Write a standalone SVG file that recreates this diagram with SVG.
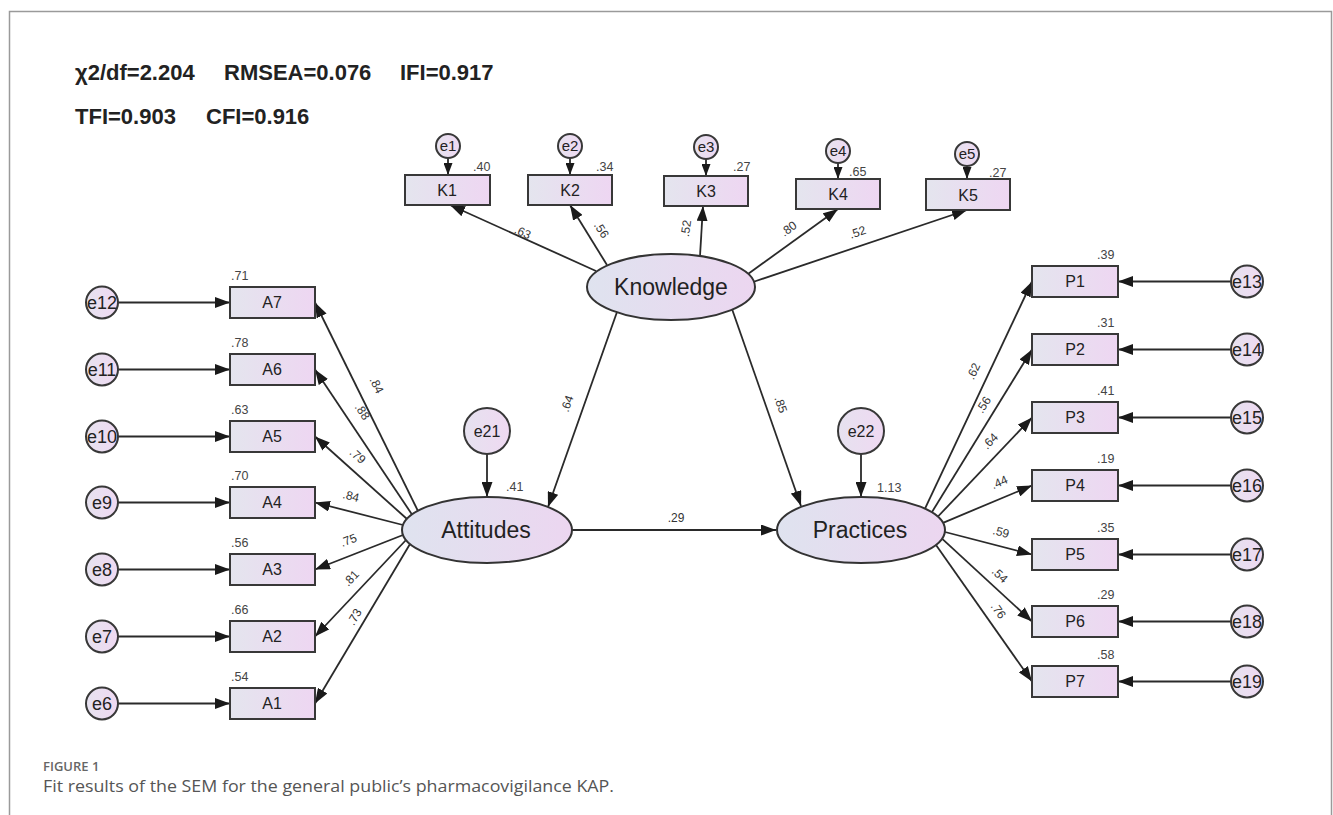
<svg xmlns="http://www.w3.org/2000/svg" width="1333" height="815" viewBox="0 0 1333 815">
<defs>
<linearGradient id="gBox" x1="0" y1="0" x2="1" y2="0"><stop offset="0" stop-color="#e4e5ee"/><stop offset="1" stop-color="#eed6f2"/></linearGradient>
<linearGradient id="gEll" x1="0" y1="0" x2="1" y2="0"><stop offset="0" stop-color="#dfe3ef"/><stop offset="1" stop-color="#ecd6f0"/></linearGradient>
<linearGradient id="gCir" x1="0" y1="0" x2="1" y2="0"><stop offset="0" stop-color="#e6e2ef"/><stop offset="1" stop-color="#efd9f2"/></linearGradient>
<marker id="ah" viewBox="0 0 15 11" refX="15" refY="5.5" markerWidth="15" markerHeight="11" markerUnits="userSpaceOnUse" orient="auto"><path d="M0,0 L15,5.5 L0,11 z" fill="#1a1a1a"/></marker>
<marker id="ahs" viewBox="0 0 12 9" refX="12" refY="4.5" markerWidth="12" markerHeight="9" markerUnits="userSpaceOnUse" orient="auto"><path d="M0,0 L12,4.5 L0,9 z" fill="#1a1a1a"/></marker>
</defs>
<style>
.box{fill:url(#gBox);stroke:#383838;stroke-width:2}
.ell{fill:url(#gEll);stroke:#333;stroke-width:2}
.cir{fill:url(#gCir);stroke:#383838;stroke-width:2}
.lbl{font-family:"Liberation Sans",Arial,sans-serif;font-size:16px;fill:#222;text-anchor:middle}
.big{font-family:"Liberation Sans",Arial,sans-serif;font-size:23px;fill:#222;text-anchor:middle}
.elb{font-family:"Liberation Sans",Arial,sans-serif;font-size:18px;fill:#222;text-anchor:middle}
.elm{font-family:"Liberation Sans",Arial,sans-serif;font-size:16px;fill:#222;text-anchor:middle}
.elt{font-family:"Liberation Sans",Arial,sans-serif;font-size:15px;fill:#222;text-anchor:middle}
.val{font-family:"Liberation Sans",Arial,sans-serif;font-size:12.5px;fill:#444}
.pl{font-family:"Liberation Sans",Arial,sans-serif;font-size:12px;fill:#333;text-anchor:middle}
.hdr{font-family:"Liberation Sans",Arial,sans-serif;font-size:22px;font-weight:bold;fill:#222}
.con line{stroke:#2a2a2a;stroke-width:1.8;marker-end:url(#ah)}
.con line.s{marker-end:url(#ahs)}
</style>
<rect width="1333" height="815" fill="#fff"/>
<path d="M9.5,815 L9.5,11.5 L1331.5,11.5 L1331.5,815" fill="none" stroke="#9a9a9a" stroke-width="1.5"/>

<g id="header">
<text class="hdr" x="75" y="80">χ2/df=2.204</text>
<text class="hdr" x="224" y="80">RMSEA=0.076</text>
<text class="hdr" x="400" y="80">IFI=0.917</text>
<text class="hdr" x="75" y="124">TFI=0.903</text>
<text class="hdr" x="206" y="124">CFI=0.916</text>
</g>

<g id="connectors" class="con">
<line class="s" x1="448" y1="158" x2="448" y2="175"/>
<line class="s" x1="570" y1="158" x2="570" y2="175"/>
<line class="s" x1="706" y1="159" x2="706" y2="176"/>
<line class="s" x1="838" y1="163" x2="838" y2="179"/>
<line class="s" x1="967" y1="166" x2="967" y2="179"/>
<line x1="596" y1="271" x2="450" y2="205"/>
<line x1="607" y1="265" x2="570" y2="205"/>
<line x1="700" y1="256" x2="703" y2="206"/>
<line x1="748" y1="274" x2="838" y2="209"/>
<line x1="753" y1="282" x2="967" y2="210"/>
<line x1="617" y1="312" x2="548" y2="507"/>
<line x1="732" y1="309" x2="801" y2="506"/>
<line x1="572" y1="530" x2="776" y2="530"/>
<line x1="487" y1="454" x2="487" y2="497"/>
<line x1="861" y1="454" x2="861" y2="497"/>
<line x1="118" y1="302.5" x2="230" y2="302.5"/>
<line x1="118" y1="369.5" x2="230" y2="369.5"/>
<line x1="118" y1="436.5" x2="230" y2="436.5"/>
<line x1="118" y1="502.5" x2="230" y2="502.5"/>
<line x1="118" y1="569.5" x2="230" y2="569.5"/>
<line x1="118" y1="636.5" x2="230" y2="636.5"/>
<line x1="118" y1="703.5" x2="230" y2="703.5"/>
<line x1="418" y1="511" x2="315" y2="302.5"/>
<line x1="412" y1="514.5" x2="315" y2="369.5"/>
<line x1="407" y1="519" x2="315" y2="436.5"/>
<line x1="403" y1="525" x2="315" y2="502.5"/>
<line x1="403" y1="535" x2="315" y2="569.5"/>
<line x1="406" y1="540" x2="315" y2="636.5"/>
<line x1="410" y1="544" x2="315" y2="703.5"/>
<line x1="925" y1="508.6" x2="1032" y2="281.5"/>
<line x1="932" y1="512" x2="1032" y2="349.5"/>
<line x1="938" y1="516.5" x2="1032" y2="417.5"/>
<line x1="943" y1="522.8" x2="1032" y2="485.5"/>
<line x1="945" y1="532" x2="1032" y2="554.5"/>
<line x1="942" y1="538.7" x2="1032" y2="621.5"/>
<line x1="936" y1="545" x2="1032" y2="681.5"/>
<line x1="1231" y1="281.5" x2="1118" y2="281.5"/>
<line x1="1231" y1="349.5" x2="1118" y2="349.5"/>
<line x1="1231" y1="417.5" x2="1118" y2="417.5"/>
<line x1="1231" y1="485.5" x2="1118" y2="485.5"/>
<line x1="1231" y1="554.5" x2="1118" y2="554.5"/>
<line x1="1231" y1="621.5" x2="1118" y2="621.5"/>
<line x1="1231" y1="681.5" x2="1118" y2="681.5"/>
</g>

<g id="path-labels">
<text class="pl" transform="translate(521,236) rotate(24)">.63</text>
<text class="pl" transform="translate(598,232) rotate(58)">.56</text>
<text class="pl" transform="translate(690,229) rotate(-82)">.52</text>
<text class="pl" transform="translate(791,232) rotate(-36)">.80</text>
<text class="pl" transform="translate(859,236) rotate(-19)">.52</text>
<text class="pl" transform="translate(571,405) rotate(-70)">.64</text>
<text class="pl" transform="translate(777,406) rotate(71)">.85</text>
<text class="pl" x="676" y="522">.29</text>
<text class="pl" transform="translate(373,387) rotate(64)">.84</text>
<text class="pl" transform="translate(359,414) rotate(56)">.88</text>
<text class="pl" transform="translate(355,459) rotate(42)">.79</text>
<text class="pl" transform="translate(350,500) rotate(14)">.84</text>
<text class="pl" transform="translate(350,544) rotate(-21)">.75</text>
<text class="pl" transform="translate(354,581) rotate(-47)">.81</text>
<text class="pl" transform="translate(358,619) rotate(-59)">.73</text>
<text class="pl" transform="translate(977,373) rotate(-65)">.62</text>
<text class="pl" transform="translate(987,407) rotate(-58)">.56</text>
<text class="pl" transform="translate(993,444) rotate(-46)">.64</text>
<text class="pl" transform="translate(1001,486) rotate(-23)">.44</text>
<text class="pl" transform="translate(1000,536) rotate(14)">.59</text>
<text class="pl" transform="translate(997,578) rotate(43)">.54</text>
<text class="pl" transform="translate(995,613) rotate(55)">.76</text>
</g>

<g id="Knowledge"><ellipse class="ell" cx="671" cy="287" rx="84" ry="33"/><text class="big" x="671" y="295">Knowledge</text></g>
<g id="Attitudes"><ellipse class="ell" cx="487" cy="530" rx="85" ry="33"/><text class="big" x="486" y="538">Attitudes</text></g>
<g id="Practices"><ellipse class="ell" cx="861" cy="530" rx="84" ry="33"/><text class="big" x="860" y="538">Practices</text></g>

<g id="e21"><circle class="cir" cx="487" cy="431" r="23"/><text class="elm" x="487" y="437">e21</text></g>
<text class="val" x="506" y="491">.41</text>
<g id="e22"><circle class="cir" cx="861" cy="431" r="23"/><text class="elm" x="861" y="437">e22</text></g>
<text class="val" x="877" y="492">1.13</text>

<g id="e1"><circle class="cir" cx="448" cy="146" r="12"/><text class="elt" x="448" y="151">e1</text></g>
<g id="e2"><circle class="cir" cx="570" cy="146" r="12"/><text class="elt" x="570" y="151">e2</text></g>
<g id="e3"><circle class="cir" cx="706" cy="147" r="12"/><text class="elt" x="706" y="152">e3</text></g>
<g id="e4"><circle class="cir" cx="838" cy="151" r="12"/><text class="elt" x="838" y="156">e4</text></g>
<g id="e5"><circle class="cir" cx="967" cy="154" r="12"/><text class="elt" x="967" y="159">e5</text></g>
<g id="K1"><rect class="box" x="405" y="175" width="85" height="30"/><text class="lbl" x="447" y="196">K1</text><text class="val" x="473" y="171">.40</text></g>
<g id="K2"><rect class="box" x="528" y="175" width="84" height="30"/><text class="lbl" x="570" y="196">K2</text><text class="val" x="596" y="171">.34</text></g>
<g id="K3"><rect class="box" x="664" y="176" width="84" height="30"/><text class="lbl" x="706" y="197">K3</text><text class="val" x="733" y="171">.27</text></g>
<g id="K4"><rect class="box" x="796" y="179" width="84" height="30"/><text class="lbl" x="838" y="200">K4</text><text class="val" x="849" y="176">.65</text></g>
<g id="K5"><rect class="box" x="926" y="179" width="84" height="31"/><text class="lbl" x="968" y="201">K5</text><text class="val" x="989" y="177">.27</text></g>

<g id="A7"><rect class="box" x="230" y="287" width="85" height="31"/><text class="lbl" x="272" y="308">A7</text><text class="val" x="231" y="280">.71</text></g>
<g id="A6"><rect class="box" x="230" y="354" width="85" height="31"/><text class="lbl" x="272" y="375">A6</text><text class="val" x="231" y="347">.78</text></g>
<g id="A5"><rect class="box" x="230" y="421" width="85" height="31"/><text class="lbl" x="272" y="442">A5</text><text class="val" x="231" y="414">.63</text></g>
<g id="A4"><rect class="box" x="230" y="487" width="85" height="31"/><text class="lbl" x="272" y="508">A4</text><text class="val" x="231" y="480">.70</text></g>
<g id="A3"><rect class="box" x="230" y="554" width="85" height="31"/><text class="lbl" x="272" y="575">A3</text><text class="val" x="231" y="547">.56</text></g>
<g id="A2"><rect class="box" x="230" y="621" width="85" height="31"/><text class="lbl" x="272" y="642">A2</text><text class="val" x="231" y="614">.66</text></g>
<g id="A1"><rect class="box" x="230" y="688" width="85" height="31"/><text class="lbl" x="272" y="709">A1</text><text class="val" x="231" y="681">.54</text></g>
<g id="e12"><circle class="cir" cx="102" cy="302.5" r="16"/><text class="elb" x="102" y="309">e12</text></g>
<g id="e11"><circle class="cir" cx="102" cy="369.5" r="16"/><text class="elb" x="102" y="376">e11</text></g>
<g id="e10"><circle class="cir" cx="102" cy="436.5" r="16"/><text class="elb" x="102" y="443">e10</text></g>
<g id="e9"><circle class="cir" cx="102" cy="502.5" r="16"/><text class="elb" x="102" y="509">e9</text></g>
<g id="e8"><circle class="cir" cx="102" cy="569.5" r="16"/><text class="elb" x="102" y="576">e8</text></g>
<g id="e7"><circle class="cir" cx="102" cy="636.5" r="16"/><text class="elb" x="102" y="643">e7</text></g>
<g id="e6"><circle class="cir" cx="102" cy="703.5" r="16"/><text class="elb" x="102" y="710">e6</text></g>

<g id="P1"><rect class="box" x="1032" y="266" width="86" height="31"/><text class="lbl" x="1075" y="287">P1</text><text class="val" x="1097" y="259">.39</text></g>
<g id="P2"><rect class="box" x="1032" y="334" width="86" height="31"/><text class="lbl" x="1075" y="355">P2</text><text class="val" x="1097" y="327">.31</text></g>
<g id="P3"><rect class="box" x="1032" y="402" width="86" height="31"/><text class="lbl" x="1075" y="423">P3</text><text class="val" x="1097" y="395">.41</text></g>
<g id="P4"><rect class="box" x="1032" y="470" width="86" height="31"/><text class="lbl" x="1075" y="491">P4</text><text class="val" x="1097" y="463">.19</text></g>
<g id="P5"><rect class="box" x="1032" y="539" width="86" height="31"/><text class="lbl" x="1075" y="560">P5</text><text class="val" x="1097" y="532">.35</text></g>
<g id="P6"><rect class="box" x="1032" y="606" width="86" height="31"/><text class="lbl" x="1075" y="627">P6</text><text class="val" x="1097" y="599">.29</text></g>
<g id="P7"><rect class="box" x="1032" y="666" width="86" height="31"/><text class="lbl" x="1075" y="687">P7</text><text class="val" x="1097" y="659">.58</text></g>
<g id="e13"><circle class="cir" cx="1247" cy="281.5" r="16"/><text class="elb" x="1247" y="288">e13</text></g>
<g id="e14"><circle class="cir" cx="1247" cy="349.5" r="16"/><text class="elb" x="1247" y="356">e14</text></g>
<g id="e15"><circle class="cir" cx="1247" cy="417.5" r="16"/><text class="elb" x="1247" y="424">e15</text></g>
<g id="e16"><circle class="cir" cx="1247" cy="485.5" r="16"/><text class="elb" x="1247" y="492">e16</text></g>
<g id="e17"><circle class="cir" cx="1247" cy="554.5" r="16"/><text class="elb" x="1247" y="561">e17</text></g>
<g id="e18"><circle class="cir" cx="1247" cy="621.5" r="16"/><text class="elb" x="1247" y="628">e18</text></g>
<g id="e19"><circle class="cir" cx="1247" cy="681.5" r="16"/><text class="elb" x="1247" y="688">e19</text></g>

<g id="caption">
<text x="43" y="771" font-family="'Open Sans','Liberation Sans',sans-serif" font-size="13" font-weight="600" fill="#666">FIGURE 1</text>
<text x="43" y="792" font-family="'Open Sans','Liberation Sans',sans-serif" font-size="16" fill="#555" textLength="571" lengthAdjust="spacingAndGlyphs">Fit results of the SEM for the general public’s pharmacovigilance KAP.</text>
</g>
</svg>
